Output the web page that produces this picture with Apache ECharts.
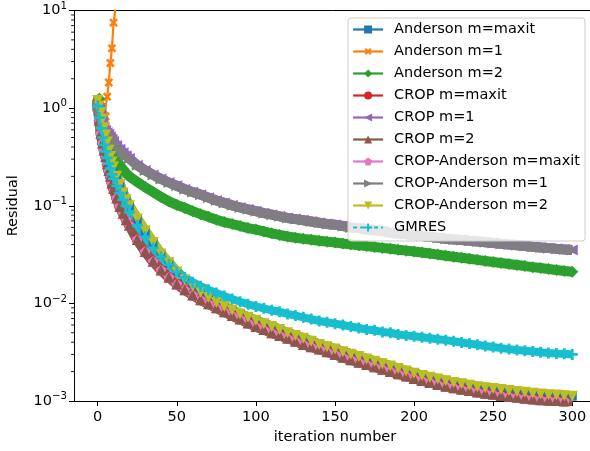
<!DOCTYPE html>
<html><head><meta charset="utf-8">
<script src="https://cdn.jsdelivr.net/npm/echarts@6/dist/echarts.min.js"></script>
<style>html,body{margin:0;padding:0;background:#fff}#c{width:590px;height:451px}</style>
</head><body><div id="c"></div>
<script>
const iterations = [0,1,2,3,4,5,6,7,8,9,10,12,14,16,18,20,
  25,30,35,40,45,50,55,60,65,70,75,80,85,90,95,100,
  105,110,115,120,125,130,135,140,145,150,155,160,165,170,175,180,185,190,195,200,
  205,210,215,220,225,230,235,240,245,250,255,260,265,270,275,280,285,290,295,300];

const andersonM1 = [1.1,0.95,0.88,0.85,0.84,0.82,1.31,1.83,2.9,4.1,7.5,13];

const andersonM2 = [1.2,1.25,1.0,0.8,0.65,0.55,0.47,0.42,0.38,0.35,0.33,0.29,0.26,0.235,0.215,0.2,
  0.175,0.155,0.138,0.123,0.111,0.102,0.095,0.088,0.082,0.077,0.072,0.068,0.065,0.062,0.059,0.057,
  0.0545,0.0522,0.0502,0.0484,0.047,0.0458,0.0448,0.0438,0.0429,0.042,
  0.041,0.0402,0.0394,0.0386,0.0378,0.037,0.0362,0.0354,0.0347,0.034,
  0.0332,0.0324,0.0316,0.0308,0.03,0.0293,0.0286,0.0279,0.0272,0.0265,
  0.0259,0.0253,0.0247,0.0241,0.0235,0.023,0.0225,0.022,0.0215,0.0211];

const cropAndersonM1 = [1.05,1.0,0.85,0.72,0.64,0.59,0.56,0.54,0.51,0.48,0.455,0.415,0.38,0.35,0.325,0.305,
  0.26,0.23,0.207,0.188,0.173,0.16,0.148,0.138,0.13,0.121,0.113,0.107,0.101,0.096,0.092,0.088,
  0.084,0.081,0.078,0.075,0.073,0.071,0.069,0.067,0.065,0.064,
  0.062,0.06,0.059,0.057,0.056,0.055,0.053,0.052,0.051,0.05,
  0.049,0.048,0.047,0.046,0.045,0.0445,0.0437,0.043,0.0422,0.0415,
  0.0408,0.04,0.0394,0.0387,0.038,0.0374,0.0368,0.0362,0.0357,0.0352];
const cropM1 = cropAndersonM1;

const cropAndersonM2 = [1.2,1.05,0.9,0.77,0.63,0.53,0.45,0.37,0.32,0.28,0.25,0.2,0.165,0.135,0.115,0.1,
  0.073,0.055,0.042,0.032,0.026,0.021,0.0175,0.015,0.013,0.0115,0.0102,0.0093,0.0085,0.0078,0.0072,0.0067,
  0.0062,0.0058,0.0054,0.005,0.0047,0.0044,0.0041,0.0038,0.0036,0.0034,
  0.0032,0.00302,0.00285,0.0027,0.00255,0.00241,0.00228,0.00215,0.00203,0.00192,
  0.00183,0.00175,0.00168,0.00161,0.00155,0.0015,0.00145,0.0014,0.00137,0.00134,
  0.00131,0.00128,0.00125,0.00123,0.0012,0.00118,0.00116,0.00115,0.00113,0.00112];
const andersonMaxit = cropAndersonM2;

const cropM2 = [1.1,0.75,0.55,0.44,0.37,0.32,0.27,0.23,0.2,0.17,0.15,0.12,0.098,0.084,0.072,0.063,
  0.045,0.034,0.027,0.022,0.0185,0.0158,0.0138,0.0122,0.0109,0.0099,0.009,0.0082,0.0075,0.0069,0.0063,0.0058,
  0.0054,0.005,0.0047,0.0044,0.0041,0.0038,0.0036,0.0034,0.0032,0.003,
  0.0028,0.00265,0.0025,0.00237,0.00224,0.00212,0.00201,0.0019,0.0018,0.0017,
  0.00162,0.00155,0.00148,0.00142,0.00137,0.00132,0.00128,0.00124,0.0012,0.00117,
  0.00114,0.00111,0.00109,0.00107,0.00105,0.00103,0.00102,0.00101,0.001,0.00099];
const cropMaxit = cropM2;
const cropAndersonMaxit = cropM2;

const gmres = [1.05,0.8,0.62,0.5,0.42,0.36,0.31,0.27,0.24,0.21,0.19,0.16,0.135,0.115,0.1,0.086,
  0.063,0.048,0.037,0.03,0.025,0.021,0.0185,0.0165,0.015,0.0138,0.0128,0.0119,0.0111,0.0104,0.0098,0.0093,
  0.0089,0.0085,0.0082,0.0078,0.0075,0.0072,0.0069,0.0066,0.0064,0.0062,
  0.006,0.0058,0.0056,0.0054,0.0053,0.0051,0.005,0.0048,0.0047,0.0046,
  0.0045,0.0044,0.0043,0.0042,0.0041,0.00398,0.00387,0.00377,0.00366,0.00357,
  0.00348,0.0034,0.00333,0.00327,0.00321,0.00316,0.00311,0.00307,0.00304,0.003];

const xTicks = [0,50,100,150,200,250,300];
const yMinorTicks = [0.002,0.003,0.004,0.005,0.006,0.007,0.008,0.009,
  0.02,0.03,0.04,0.05,0.06,0.07,0.08,0.09,
  0.2,0.3,0.4,0.5,0.6,0.7,0.8,0.9,
  2,3,4,5,6,7,8,9];

const legendNames = ['Anderson m=maxit','Anderson m=1','Anderson m=2','CROP m=maxit','CROP m=1','CROP m=2',
  'CROP-Anderson m=maxit','CROP-Anderson m=1','CROP-Anderson m=2','GMRES'];

const FONT = 'DejaVu Sans';
const FS = 14.5;
const symPlus = 'path://M3,0H5V3H8V5H5V8H3V5H0V3H3Z';
const symPent = 'path://M50,0L97.6,34.5L79.4,90.5L20.6,90.5L2.4,34.5Z';

function pairs(vals) { return vals.map((v, i) => [iterations[i], v]); }
function mk(name, color, vals, symbol, rot, size, lw) {
  return {
    name, type: 'line', data: pairs(vals), symbol, symbolRotate: rot, symbolSize: size,
    showSymbol: true, showAllSymbol: true, smooth: false,
    itemStyle: { color }, lineStyle: { color, width: lw }, emphasis: { disabled: true }
  };
}

const BW = 10;
const series = [
  mk('Anderson m=maxit', '#1f77b4', andersonMaxit, 'rect', 0, 9, BW),
  mk('Anderson m=1', '#ff7f0e', andersonM1, symPlus, 45, 10, 2.2),
  mk('Anderson m=2', '#2ca02c', andersonM2, 'diamond', 0, 12, BW),
  mk('CROP m=maxit', '#d62728', cropMaxit, 'circle', 0, 11, BW),
  mk('CROP-Anderson m=maxit', '#e377c2', cropAndersonMaxit, symPent, 0, 11, BW),
  mk('CROP m=1', '#9467bd', cropM1, 'triangle', 90, 11, BW),
  mk('CROP m=2', '#8c564b', cropM2, 'triangle', 0, 11, BW),
  mk('CROP-Anderson m=1', '#7f7f7f', cropAndersonM1, 'triangle', -90, 11, BW),
  mk('CROP-Anderson m=2', '#bcbd22', cropAndersonM2, 'triangle', 180, 11, BW),
  mk('GMRES', '#17becf', gmres, symPlus, 0, 11, 8),
  {
    type: 'custom', silent: true, clip: false, z: 10,
    data: yMinorTicks.map(v => [0, v]),
    renderItem: function (params, api) {
      const y = api.coord([0, api.value(1)])[1];
      const x = params.coordSys.x;
      return { type: 'line', shape: { x1: x - 2.9, y1: y, x2: x, y2: y }, style: { stroke: '#000', lineWidth: 0.9 } };
    }
  }
];

const chart = echarts.init(document.getElementById('c'), null, { renderer: 'canvas' });
chart.setOption({
  animation: false,
  backgroundColor: '#fff',
  grid: { left: 74, top: 10.5, width: 522, height: 390.5, outerBoundsMode: 'none', containLabel: false, show: false },
  xAxis: [{
    type: 'value', min: -15, max: 315,
    name: 'iteration number', nameLocation: 'middle', nameGap: 29,
    nameTextStyle: { fontFamily: FONT, fontSize: FS, color: '#000' },
    axisLine: { show: true, onZero: false, lineStyle: { color: '#000', width: 1 } },
    axisTick: { show: true, length: 5, customValues: xTicks, lineStyle: { color: '#000', width: 1 } },
    axisLabel: { customValues: xTicks, margin: 9, fontFamily: FONT, fontSize: FS, color: '#000' },
    splitLine: { show: false }
  }, {
    type: 'value', position: 'top', min: -15, max: 315,
    axisLine: { show: true, onZero: false, lineStyle: { color: '#000', width: 1 } },
    axisTick: { show: false }, axisLabel: { show: false }, splitLine: { show: false }
  }],
  yAxis: {
    type: 'log', logBase: 10, min: 0.001, max: 10,
    name: 'Residual', nameLocation: 'middle', nameGap: 53, nameRotate: 90,
    nameTextStyle: { fontFamily: FONT, fontSize: FS, color: '#000' },
    axisLine: { show: true, onZero: false, lineStyle: { color: '#000', width: 1 } },
    axisTick: { show: true, length: 5, lineStyle: { color: '#000', width: 1 } },
    axisLabel: {
      margin: 7,
      formatter: function (v) {
        const e = Math.round(Math.log10(v));
        return '{b|10}{e|' + (e < 0 ? '\u2212' + (-e) : String(e)) + '}';
      },
      rich: {
        b: { fontFamily: FONT, fontSize: FS, color: '#000' },
        e: { fontFamily: FONT, fontSize: 10.2, color: '#000', padding: [0, 0, 9, 0] }
      }
    },
    splitLine: { show: false }
  },
  legend: {
    orient: 'vertical', left: 348, top: 18,
    data: legendNames.map(n => n === 'GMRES' ? { name: n, lineStyle: { type: [4, 3] } } : { name: n }),
    itemWidth: 30, itemHeight: 10, itemGap: 7.0,
    padding: [4, 5, 6, 4],
    backgroundColor: 'rgba(255,255,255,0.8)', borderColor: '#cccccc', borderWidth: 1, borderRadius: 3,
    textStyle: { fontFamily: FONT, fontSize: FS, color: '#000', padding: [0, 0, 0, 6] },
    lineStyle: { width: 2.2 },
    selectedMode: false
  },
  series
});
</script>
</body></html>
